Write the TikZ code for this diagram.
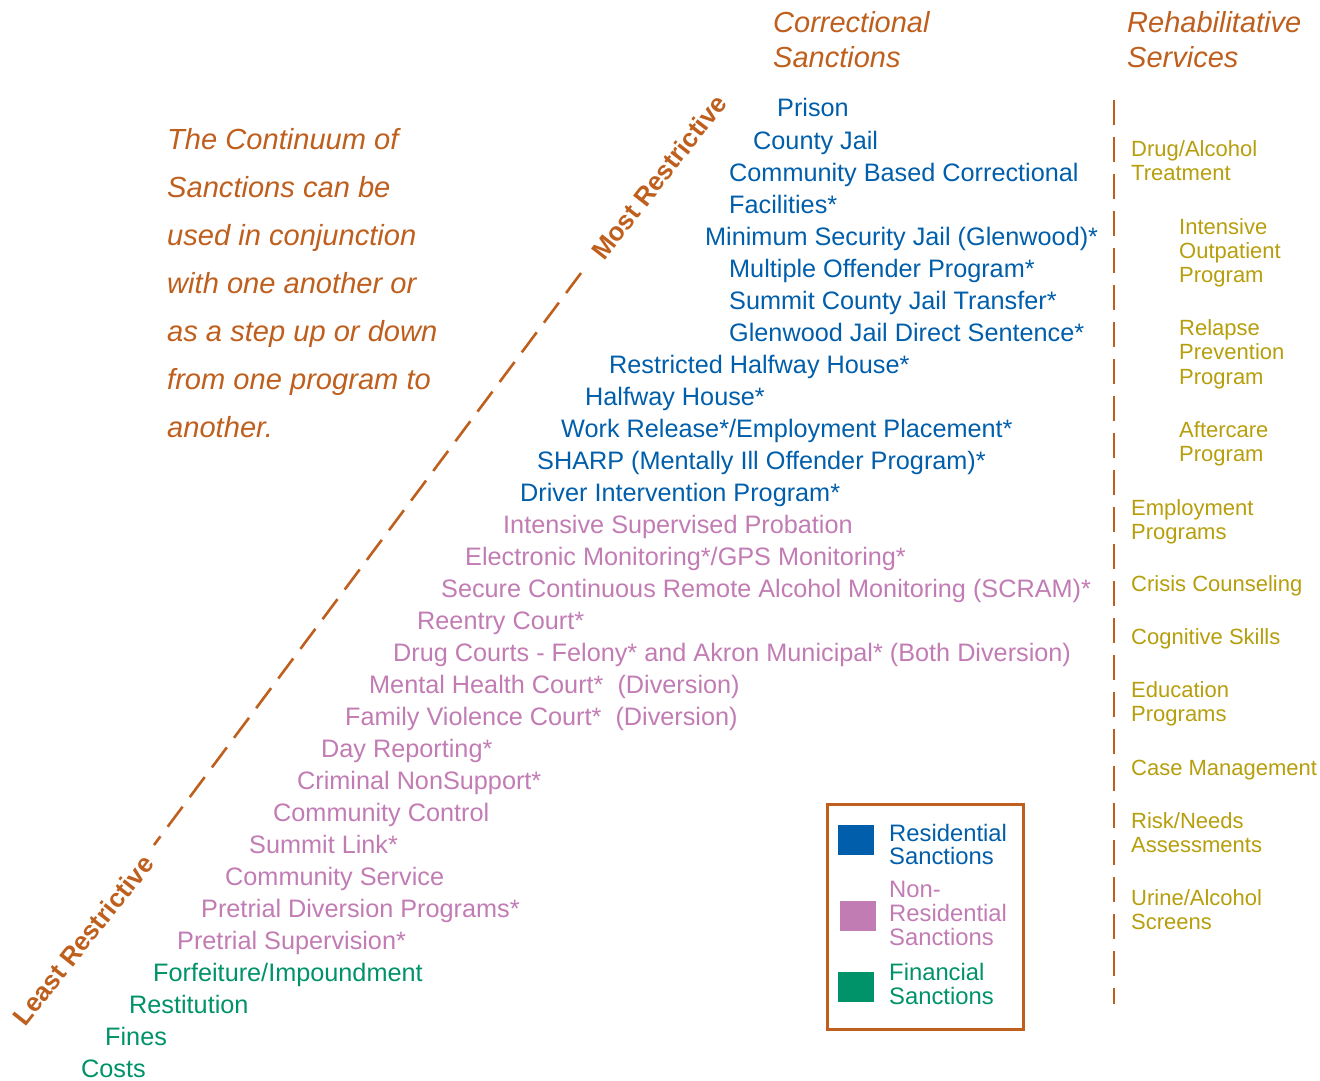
\documentclass[tikz,border=0pt]{standalone}
\usepackage{fontspec}
\setmainfont{Liberation Sans}
\definecolor{resblue}{RGB}{0,94,170}
\definecolor{nrpink}{RGB}{194,124,180}
\definecolor{fingreen}{RGB}{0,146,104}
\definecolor{olive}{RGB}{182,158,12}
\definecolor{brown}{RGB}{190,95,30}
\begin{document}
\begin{tikzpicture}[x=1pt,y=-1pt,
  item/.style={anchor=base west,inner sep=0pt,font=\fontsize{25.25}{30}\selectfont},
  res/.style={item,text=resblue},
  nres/.style={item,text=nrpink},
  fin/.style={item,text=fingreen},
  svc/.style={anchor=base west,inner sep=0pt,font=\fontsize{22}{26}\selectfont,text=olive},
  head/.style={anchor=base west,inner sep=0pt,font=\fontsize{29}{34}\selectfont\itshape,text=brown},
  para/.style={anchor=base west,inner sep=0pt,font=\fontsize{29.1}{34}\selectfont\itshape,text=brown},
  rot/.style={inner sep=0pt,font=\fontsize{26}{30}\selectfont\bfseries,text=brown},
  leg/.style={anchor=base west,inner sep=0pt,font=\fontsize{23.8}{27}\selectfont},
  dashline/.style={draw=brown,line width=2.6pt,dash pattern=on 25pt off 12pt}
]
\useasboundingbox (0,0) rectangle (1320,1081);

% headers
\node[head] (h1) at (773,33) {Correctional};
\node[head] (h2) at (773,67) {Sanctions};
\node[head] (h3) at (1127,33) {Rehabilitative};
\node[head] (h4) at (1127,67) {Services};

% paragraph
\node[para] (t1) at (167,149) {The Continuum of};
\node[para] (t2) at (167,197) {Sanctions can be};
\node[para] (t3) at (167,245) {used in conjunction};
\node[para] (t4) at (167,293) {with one another or};
\node[para] (t5) at (167,341) {as a step up or down};
\node[para] (t6) at (167,389) {from one program to};
\node[para] (t7) at (167,437) {another.};

% diagonal dashed line and labels
\coordinate (dtop) at (581,273);
\coordinate (dbot) at (154,845);
\draw[dashline] (dtop) -- (dbot);
\node[rot,rotate=52] (most) at (659,177) {Most Restrictive};
\node[rot,rotate=51.5] (least) at (83,940) {Least Restrictive};

% residential sanctions
\node[res] (p1) at (777,117) {Prison};
\node[res] (p2) at (753,149) {County Jail};
\node[res] (p3) at (729,181) {Community Based Correctional};
\node[res] (p4) at (729,213) {Facilities*};
\node[res] (p5) at (705,245) {Minimum Security Jail (Glenwood)*};
\node[res] (p6) at (729,277) {Multiple Offender Program*};
\node[res] (p7) at (729,309) {Summit County Jail Transfer*};
\node[res] (p8) at (729,341) {Glenwood Jail Direct Sentence*};
\node[res] (p9) at (609,373) {Restricted Halfway House*};
\node[res] (p10) at (585,405) {Halfway House*};
\node[res] (p11) at (561,437) {Work Release*/Employment Placement*};
\node[res] (p12) at (537,469) {SHARP (Mentally Ill Offender Program)*};
\node[res] (p13) at (520,501) {Driver Intervention Program*};
% non-residential sanctions
\node[nres] (p14) at (503,533) {Intensive Supervised Probation};
\node[nres] (p15) at (465,565) {Electronic Monitoring*/GPS Monitoring*};
\node[nres] (p16) at (441,597) {Secure Continuous Remote Alcohol Monitoring (SCRAM)*};
\node[nres] (p17) at (417,629) {Reentry Court*};
\node[nres] (p18) at (393,661) {Drug Courts - Felony* and Akron Municipal* (Both Diversion)};
\node[nres] (p19) at (369,693) {Mental Health Court*\ \ (Diversion)};
\node[nres] (p20) at (345,725) {Family Violence Court*\ \ (Diversion)};
\node[nres] (p21) at (321,757) {Day Reporting*};
\node[nres] (p22) at (297,789) {Criminal NonSupport*};
\node[nres] (p23) at (273,821) {Community Control};
\node[nres] (p24) at (249,853) {Summit Link*};
\node[nres] (p25) at (225,885) {Community Service};
\node[nres] (p26) at (201,917) {Pretrial Diversion Programs*};
\node[nres] (p27) at (177,949) {Pretrial Supervision*};
% financial sanctions
\node[fin] (p28) at (153,981) {Forfeiture/Impoundment};
\node[fin] (p29) at (129,1013) {Restitution};
\node[fin] (p30) at (105,1045) {Fines};
\node[fin] (p31) at (81,1077) {Costs};

% vertical dashed divider
\coordinate (vtop) at (1114,100);
\coordinate (vbot) at (1114,1004);
\draw[dashline] (vtop) -- (vbot);

% rehabilitative services
\node[svc] (s1a) at (1131,156) {Drug/Alcohol};
\node[svc] (s1b) at (1131,180) {Treatment};
\node[svc] (s2a) at (1179,234) {Intensive};
\node[svc] (s2b) at (1179,258) {Outpatient};
\node[svc] (s2c) at (1179,282) {Program};
\node[svc] (s3a) at (1179,335) {Relapse};
\node[svc] (s3b) at (1179,359) {Prevention};
\node[svc] (s3c) at (1179,384) {Program};
\node[svc] (s4a) at (1179,437) {Aftercare};
\node[svc] (s4b) at (1179,461) {Program};
\node[svc] (s5a) at (1131,515) {Employment};
\node[svc] (s5b) at (1131,539) {Programs};
\node[svc] (s6) at (1131,591) {Crisis Counseling};
\node[svc] (s7) at (1131,644) {Cognitive Skills};
\node[svc] (s8a) at (1131,697) {Education};
\node[svc] (s8b) at (1131,721) {Programs};
\node[svc] (s9) at (1131,775) {Case Management};
\node[svc] (s10a) at (1131,828) {Risk/Needs};
\node[svc] (s10b) at (1131,852) {Assessments};
\node[svc] (s11a) at (1131,905) {Urine/Alcohol};
\node[svc] (s11b) at (1131,929) {Screens};

% legend
\node[draw=brown,line width=2.7pt,minimum width=196pt,minimum height=225pt,inner sep=0pt,anchor=north west] (legbox) at (826,803) {};
\fill[resblue] (838,825) rectangle (874,855);
\fill[nrpink] (840,901) rectangle (876,931);
\fill[fingreen] (838,972) rectangle (874,1002);
\node[leg,text=resblue] (l1a) at (889,841) {Residential};
\node[leg,text=resblue] (l1b) at (889,864) {Sanctions};
\node[leg,text=nrpink] (l2a) at (889,897) {Non-};
\node[leg,text=nrpink] (l2b) at (889,921) {Residential};
\node[leg,text=nrpink] (l2c) at (889,945) {Sanctions};
\node[leg,text=fingreen] (l3a) at (889,980) {Financial};
\node[leg,text=fingreen] (l3b) at (889,1004) {Sanctions};
\end{tikzpicture}
\end{document}
